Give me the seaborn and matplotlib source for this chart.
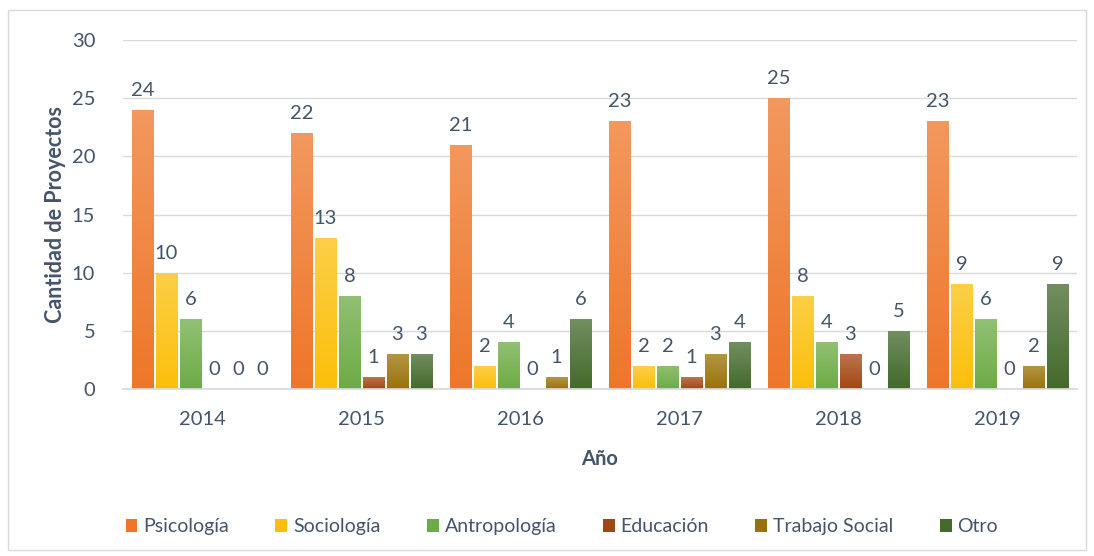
import numpy as np
import pandas as pd
import seaborn as sns
import matplotlib.pyplot as plt
from matplotlib.colors import to_rgb
from matplotlib.patches import Rectangle

years = ["2014", "2015", "2016", "2017", "2018", "2019"]
series = ["Psicología", "Sociología", "Antropología", "Educación", "Trabajo Social", "Otro"]
psicologia = [24, 22, 21, 23, 25, 23]
sociologia = [10, 13, 2, 2, 8, 9]
antropologia = [6, 8, 4, 2, 4, 6]
educacion = [0, 1, 0, 1, 3, 0]
trabajo_social = [0, 3, 1, 3, 0, 2]
otro = [0, 3, 6, 4, 5, 9]
values = [psicologia, sociologia, antropologia, educacion, trabajo_social, otro]

colors = ["#EE7629", "#FBBF0A", "#6DAB45", "#A34712", "#9A7209", "#43692B"]
text_color = "#44546A"

rows = []
for s, vals in zip(series, values):
    for y, v in zip(years, vals):
        rows.append({"Año": y, "Serie": s, "Valor": v})
df = pd.DataFrame(rows)

sns.set_theme(style="white")
plt.rcParams["font.family"] = ["Lato", "DejaVu Sans"]

fig = plt.figure(figsize=(10.94, 5.56), dpi=100)
ax = fig.add_axes([0.1124, 0.3004, 0.872, 0.6276])

sns.barplot(data=df, x="Año", y="Valor", hue="Serie", hue_order=series,
            order=years, palette=colors, width=0.905, gap=0.12,
            ax=ax, legend=True, saturation=1, edgecolor="none")

ax.set_ylim(0, 30)
ax.set_yticks(range(0, 31, 5))
ax.yaxis.grid(True, color="#D9D9D9", linewidth=1)
ax.set_axisbelow(True)
for sp in ["top", "right", "left"]:
    ax.spines[sp].set_visible(False)
ax.spines["bottom"].set_color("#D9D9D9")
ax.tick_params(axis="both", length=0, labelsize=14.5, labelcolor=text_color)
ax.tick_params(axis="x", pad=16)
ax.tick_params(axis="y", pad=20)
ax.set_ylabel("Cantidad de Proyectos", fontsize=15.5, fontweight="bold", color=text_color, labelpad=4)
ax.set_xlabel("Año", fontsize=14.5, fontweight="bold", color=text_color, labelpad=15)

# gradient overlay for Excel-like fill
for container, col in zip(ax.containers, colors):
    base = np.array(to_rgb(col))
    light = base + (1 - base) * 0.25
    grad = np.linspace(0, 1, 100)[:, None]
    img = light[None, None, :] * (1 - grad[:, :, None]) + base[None, None, :] * grad[:, :, None]
    for p in container.patches:
        h = p.get_height()
        if h <= 0:
            continue
        x0 = p.get_x()
        w = p.get_width()
        im = ax.imshow(img, extent=[x0, x0 + w, 0, h], origin="upper", aspect="auto", zorder=p.get_zorder())
        im.set_clip_path(p)
    ax.bar_label(container, labels=[str(int(v)) for v in container.datavalues],
                 padding=8, fontsize=14.5, color=text_color)

ax.set_xlim(-0.5, 5.5)
ax.set_ylim(0, 30)

handles, labels = ax.get_legend_handles_labels()
ax.legend(handles, labels, loc="upper center", bbox_to_anchor=(0.46, -0.32), ncol=6,
          frameon=False, fontsize=14, labelcolor=text_color, handlelength=0.6,
          handleheight=0.7, handletextpad=0.3, columnspacing=2.4)

fig.patches.append(Rectangle((0.007, 0.01), 0.986, 0.972, transform=fig.transFigure,
                             fill=False, edgecolor="#D9D9D9", linewidth=1))

fig.savefig("out.png", dpi=100, facecolor="white")
